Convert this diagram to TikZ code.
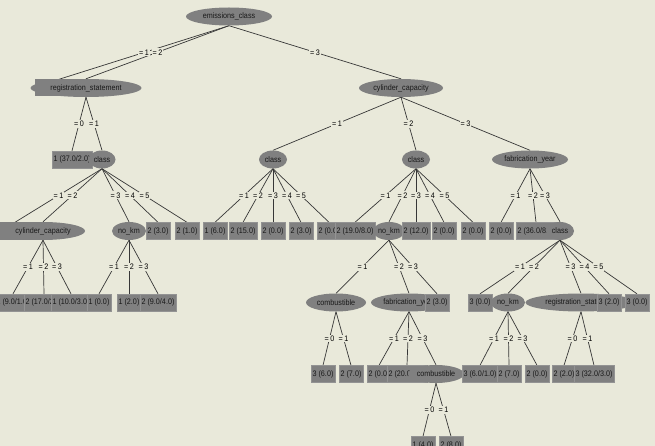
\documentclass[tikz,border=0pt]{standalone}
\usepackage{fontspec}
\newfontfamily\wf[FakeStretch=0.9]{Liberation Sans}
\usetikzlibrary{shapes.geometric}
\pgfdeclarelayer{back}\pgfdeclarelayer{edges}\pgfdeclarelayer{labels}
\pgfsetlayers{back,edges,labels,main}
\definecolor{bgc}{RGB}{233,233,218}
\definecolor{nodec}{RGB}{128,128,128}
\definecolor{linec}{RGB}{55,55,55}
\definecolor{txtc}{RGB}{25,25,25}
\begin{document}
\begin{tikzpicture}[x=1pt,y=-1pt,
  every node/.style={font=\wf\fontsize{8}{9}\selectfont, text=txtc},
  ell/.style={ellipse, fill=nodec, inner xsep=0pt, inner ysep=0pt, minimum height=18pt, minimum width=#1},
  leaf/.style={rectangle, fill=nodec, draw=nodec!85!white, line width=0.4pt, inner xsep=1.5pt, inner ysep=0pt, minimum height=17pt},
  hid/.style={rectangle, fill=nodec, inner sep=0pt, minimum height=17pt, minimum width=#1},
  lbl/.style={fill=bgc, inner xsep=1.2pt, inner ysep=1pt, text=black},
  conn/.style={draw=linec, line width=0.7pt}]
\useasboundingbox (0,0) rectangle (655,446);
\begin{pgfonlayer}{back}
\fill[bgc] (0,0) rectangle (655,446);
\end{pgfonlayer}
% row 0
\node[ell=86pt] (root) at (229,16.5) {emissions\_class};
% row 1
\node[hid=48pt] (hA) at (59,88) {};
\node[ell=111pt] (reg1) at (86,88) {registration\_statement};
\node[ell=84pt] (cyl1) at (401,88) {cylinder\_capacity};
% row 2
\node[leaf] (l37) at (72,159.5) {1 (37.0/2.0)};
\node[ell=27pt] (clA) at (102,159.5) {class};
\node[ell=28pt] (clB) at (273,159.5) {class};
\node[ell=28pt] (clC) at (416,159.5) {class};
\node[ell=76pt] (fab1) at (530,159.5) {fabrication\_year};
% row 3
\node[hid=40pt] (hB) at (15,231) {};
\node[ell=84pt] (cyl2) at (43,231) {cylinder\_capacity};
\node[ell=34pt] (nkA) at (129,231) {no\_km};
\node[leaf] (a4) at (158,231) {2 (3.0)};
\node[leaf] (a5) at (187,231) {2 (1.0)};
\node[leaf] (b1) at (215,231) {1 (6.0)};
\node[leaf] (b2) at (243,231) {2 (15.0)};
\node[leaf] (b3) at (273,231) {2 (0.0)};
\node[leaf] (b4) at (301,231) {2 (3.0)};
\node[leaf] (b5) at (329,231) {2 (0.0)};
\node[leaf] (c1) at (355,231) {2 (19.0/8.0)};
\node[ell=32pt] (nkB) at (389,231) {no\_km};
\node[leaf] (c3) at (416,231) {2 (12.0)};
\node[leaf] (c4) at (444,231) {2 (0.0)};
\node[leaf] (c5) at (473,231) {2 (0.0)};
\node[leaf] (f1) at (501,231) {2 (0.0)};
\node[leaf] (f2) at (536,231) {2 (36.0/8.0)};
\node[ell=28pt] (clD) at (560,231) {class};
% row 4
\node[leaf] (g1) at (13,302.5) {1 (9.0/1.0)};
\node[leaf] (g2) at (44,302.5) {2 (17.0/2.0)};
\node[leaf] (g3) at (71,302.5) {1 (10.0/3.0)};
\node[leaf] (h1) at (99,302.5) {1 (0.0)};
\node[leaf] (h2) at (129,302.5) {1 (2.0)};
\node[leaf] (h3) at (158,302.5) {2 (9.0/4.0)};
\node[ell=60pt] (comb1) at (336,302.5) {combustible};
\node[ell=76pt] (fab2) at (409,302.5) {fabrication\_year};
\node[leaf] (k3) at (437,302.5) {2 (3.0)};
\node[leaf] (d1) at (480,302.5) {3 (0.0)};
\node[ell=34pt] (nkC) at (508,302.5) {no\_km};
\node[ell=111pt] (reg2) at (581,302.5) {registration\_statement};
\node[leaf] (d4) at (609,302.5) {3 (2.0)};
\node[leaf] (d5) at (637,302.5) {3 (0.0)};
% row 5
\node[leaf] (m1) at (323,374) {3 (6.0)};
\node[leaf] (m2) at (351,374) {2 (7.0)};
\node[leaf] (n1) at (379,374) {2 (0.0)};
\node[leaf] (n2) at (407,374) {2 (20.0/4.0)};
\node[ell=56pt] (comb2) at (436,374) {combustible};
\node[leaf] (p1) at (480,374) {3 (6.0/1.0)};
\node[leaf] (p2) at (509,374) {2 (7.0)};
\node[leaf] (p3) at (537,374) {2 (0.0)};
\node[leaf] (q1) at (564,374) {2 (2.0)};
\node[leaf] (q2) at (594,374) {3 (32.0/3.0)};
% row 6
\node[leaf] (r1) at (423,445) {1 (4.0)};
\node[leaf] (r2) at (451,445) {2 (8.0)};
% connectors
\def\edgelist{root/hA/1, root/reg1/2, root/cyl1/3,
 reg1/l37/0, reg1/clA/1,
 cyl1/clB/1, cyl1/clC/2, cyl1/fab1/3,
 clA/hB/1, clA/cyl2/2, clA/nkA/3, clA/a4/4, clA/a5/5,
 clB/b1/1, clB/b2/2, clB/b3/3, clB/b4/4, clB/b5/5,
 clC/c1/1, clC/nkB/2, clC/c3/3, clC/c4/4, clC/c5/5,
 fab1/f1/1, fab1/f2/2, fab1/clD/3,
 cyl2/g1/1, cyl2/g2/2, cyl2/g3/3,
 nkA/h1/1, nkA/h2/2, nkA/h3/3,
 nkB/comb1/1, nkB/fab2/2, nkB/k3/3,
 clD/d1/1, clD/nkC/2, clD/reg2/3, clD/d4/4, clD/d5/5,
 comb1/m1/0, comb1/m2/1,
 fab2/n1/1, fab2/n2/2, fab2/comb2/3,
 nkC/p1/1, nkC/p2/2, nkC/p3/3,
 reg2/q1/0, reg2/q2/1,
 comb2/r1/0, comb2/r2/1}
\begin{pgfonlayer}{edges}
\foreach \p/\c/\l in \edgelist {\draw[conn] (\p.south) -- (\c.north);}
\end{pgfonlayer}
\begin{pgfonlayer}{labels}
\foreach \p/\c/\l in \edgelist {\path (\p.south) -- node[lbl] {=\,\l} (\c.north);}
\end{pgfonlayer}
\end{tikzpicture}
\end{document}
